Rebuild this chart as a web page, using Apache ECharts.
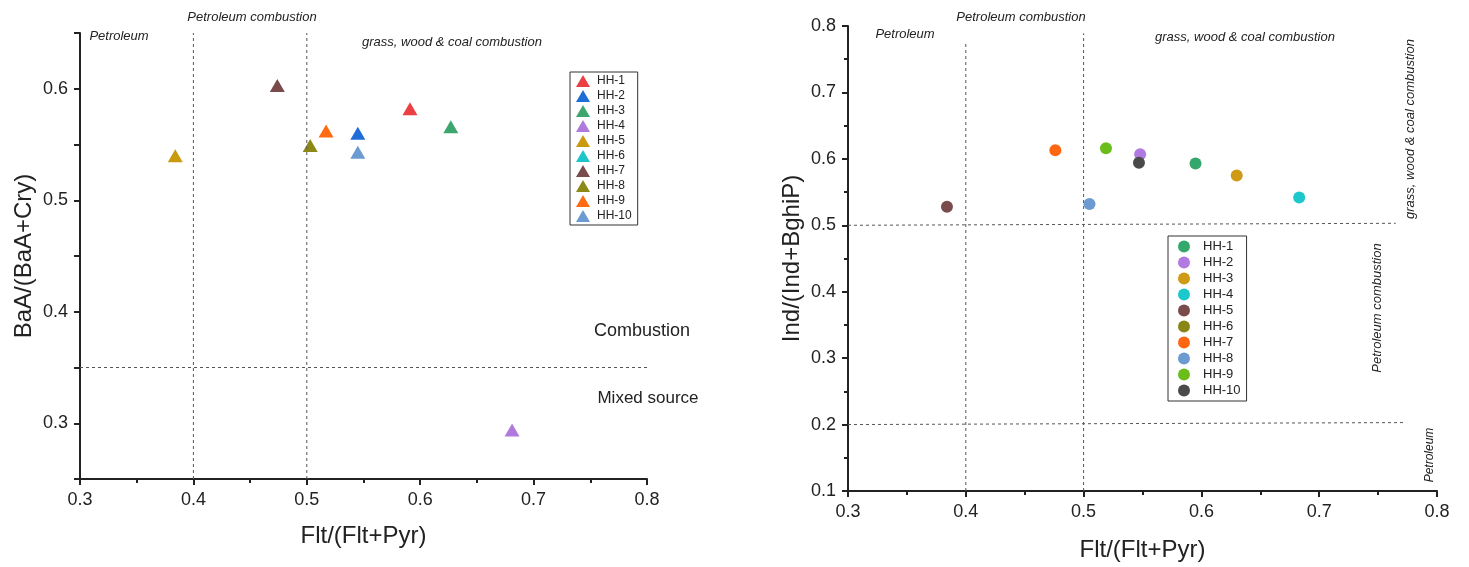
<!DOCTYPE html>
<html><head><meta charset="utf-8">
<script src="https://cdn.jsdelivr.net/npm/echarts@6/dist/echarts.min.js"></script>
<style>html,body{margin:0;padding:0;background:#fff}#c{width:1469px;height:567px}</style>
</head><body><div id="c"></div>
<script>
// ---- data ----
const sampleNames = ['HH-1','HH-2','HH-3','HH-4','HH-5','HH-6','HH-7','HH-8','HH-9','HH-10'];
// Left panel: Flt/(Flt+Pyr) vs BaA/(BaA+Cry)  (HH-6 not plotted)
const leftX = [0.591, 0.545, 0.627, 0.681, 0.384, null, 0.474, 0.503, 0.517, 0.545];
const leftY = [0.582, 0.560, 0.566, 0.294, 0.540, null, 0.603, 0.549, 0.562, 0.543];
const leftColors = ['#EC3F43','#1F6ED8','#3DA66E','#B07ADC','#C99A0B','#1CC6C8','#7A4B4B','#8C8A14','#FF6A12','#6B9BD0'];
// Right panel: Flt/(Flt+Pyr) vs Ind/(Ind+BghiP)  (HH-6 not plotted)
const rightX = [0.595, 0.548, 0.630, 0.683, 0.384, null, 0.476, 0.505, 0.519, 0.547];
const rightY = [0.593, 0.607, 0.575, 0.542, 0.528, null, 0.613, 0.532, 0.616, 0.594];
const rightColors = ['#34A86C','#B07AE0','#CF9B16','#1CC8CC','#7A4B4B','#8A8616','#FF6612','#6B9BD0','#6BBE1A','#4A4A4A'];
// Axis tick ranges [min, max, interval]
const leftXTicks = [0.3, 0.8, 0.1];
const leftYTicks = [0.25, 0.65, 0.05];
const rightXTicks = [0.3, 0.8, 0.1];
const rightYTicks = [0.1, 0.8, 0.1];
// Reference (threshold) lines: [x1,y1,x2,y2]
const leftRefLines = [[0.4,0.25,0.4,0.65],[0.5,0.25,0.5,0.65],[0.3,0.35,0.8,0.35]];
const rightRefLines = [[0.4,0.1,0.4,0.776],[0.5,0.1,0.5,0.789],[0.3,0.5,0.765,0.503],[0.3,0.2,0.773,0.203]];

const chart = echarts.init(document.getElementById('c'));
const FONT = 'Liberation Sans, Arial, sans-serif';

function valueAxis(gridIndex, ticks, name, nameGap, minor) {
  return {
    type: 'value', gridIndex, min: ticks[0], max: ticks[1], interval: ticks[2],
    name, nameLocation: 'middle', nameGap,
    nameTextStyle: { fontFamily: FONT, fontSize: 24, color: '#222' },
    axisLine: { show: true, onZero: false, lineStyle: { color: '#222', width: 2 } },
    axisTick: { show: true, length: 6, lineStyle: { color: '#222', width: 2 } },
    minorTick: { show: minor, splitNumber: 2, length: 4, lineStyle: { color: '#222', width: 2 } },
    axisLabel: { fontFamily: FONT, fontSize: 18, color: '#222', margin: 12,
      formatter: v => { const r = Math.round(v * 100); return (r % 10 === 0) ? (r / 100).toFixed(1) : ''; } },
    splitLine: { show: false }
  };
}

const series = [];
sampleNames.forEach((n, i) => {
  const d = leftX[i] == null ? [] : [[leftX[i], leftY[i]]];
  series.push({ name: n, type: 'scatter', xAxisIndex: 0, yAxisIndex: 0, data: d,
    symbol: 'triangle', symbolSize: [15, 13], itemStyle: { color: leftColors[i], opacity: 1 } });
});
sampleNames.forEach((n, i) => {
  const d = rightX[i] == null ? [] : [[rightX[i], rightY[i]]];
  series.push({ name: 'R:' + n, type: 'scatter', xAxisIndex: 1, yAxisIndex: 1, data: d,
    symbol: 'circle', symbolSize: 12, itemStyle: { color: rightColors[i], opacity: 1 } });
});
leftRefLines.forEach(l => series.push({ type: 'line', xAxisIndex: 0, yAxisIndex: 0, silent: true,
  data: [[l[0], l[1]], [l[2], l[3]]], symbol: 'none', lineStyle: { color: '#555', width: 1, type: [3, 3] } }));
rightRefLines.forEach(l => series.push({ type: 'line', xAxisIndex: 1, yAxisIndex: 1, silent: true,
  data: [[l[0], l[1]], [l[2], l[3]]], symbol: 'none', lineStyle: { color: '#555', width: 1, type: [3, 3] } }));

function txt(x, y, text, size, italic, rot) {
  return { type: 'text', x, y, rotation: rot ? Math.PI/2 : 0,
    style: { text, fontFamily: FONT, fontSize: size, fontStyle: italic ? 'italic' : 'normal', fill: '#222',
      textAlign: 'center', textVerticalAlign: 'middle' } };
}

chart.setOption({
  animation: false,
  grid: [
    { left: 80, top: 33, width: 567, height: 446 },
    { left: 848, top: 26, width: 589, height: 465 }
  ],
  xAxis: [
    valueAxis(0, leftXTicks, 'Flt/(Flt+Pyr)', 45, true),
    valueAxis(1, rightXTicks, 'Flt/(Flt+Pyr)', 47, true)
  ],
  yAxis: [
    valueAxis(0, leftYTicks, 'BaA/(BaA+Cry)', 44, false),
    valueAxis(1, rightYTicks, 'Ind/(Ind+BghiP)', 44, true)
  ],
  legend: [
    { data: sampleNames, left: 570, top: 72, orient: 'vertical', itemWidth: 14, itemHeight: 12, itemGap: 3,
      icon: 'triangle', padding: [3, 6, 3, 6], borderColor: '#333', borderWidth: 1,
      textStyle: { fontFamily: FONT, fontSize: 12, color: '#222', padding: [0, 0, 0, 2] } },
    { data: sampleNames.map(n => 'R:' + n), left: 1168, top: 236, orient: 'vertical', itemWidth: 12, itemHeight: 12, itemGap: 3,
      icon: 'circle', padding: [4, 6, 4, 10], borderColor: '#333', borderWidth: 1,
      formatter: n => n.replace('R:', ''),
      textStyle: { fontFamily: FONT, fontSize: 13, color: '#222', padding: [0, 0, 0, 8] } }
  ],
  graphic: [
    txt(252, 17, 'Petroleum combustion', 13, true),
    txt(119, 36, 'Petroleum', 13, true),
    txt(452, 42, 'grass, wood & coal combustion', 13, true),
    txt(642, 331, 'Combustion', 18, false),
    txt(648, 398, 'Mixed source', 17, false),
    txt(1021, 17, 'Petroleum combustion', 13, true),
    txt(905, 34, 'Petroleum', 13, true),
    txt(1245, 37, 'grass, wood & coal combustion', 13, true),
    txt(1410, 129, 'grass, wood & coal combustion', 13, true, true),
    txt(1377, 308, 'Petroleum combustion', 13, true, true),
    txt(1430, 455, 'Petroleum', 12, true, true)
  ],
  series
});
</script></body></html>
